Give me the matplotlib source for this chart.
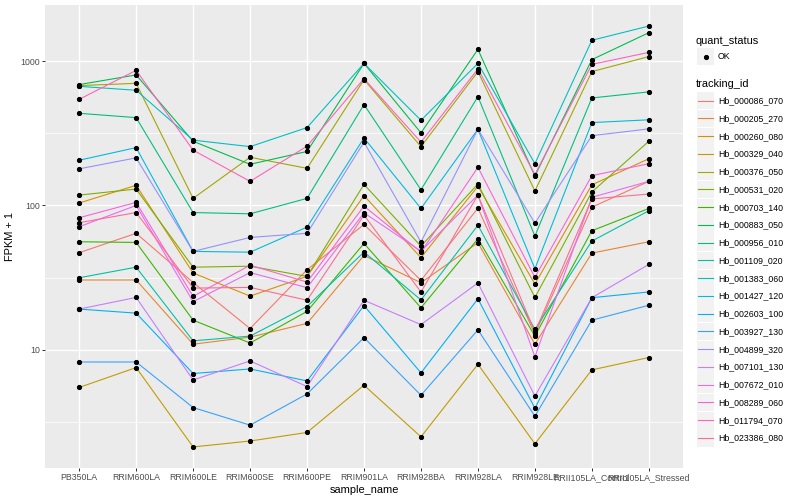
import numpy as np
import matplotlib
matplotlib.use("Agg")
import matplotlib.pyplot as plt
from matplotlib.lines import Line2D
from matplotlib.patches import Rectangle

plt.rcParams['font.family'] = ['Liberation Sans', 'DejaVu Sans']

samples = ["PB350LA", "RRIM600LA", "RRIM600LE", "RRIM600SE", "RRIM600PE",
           "RRIM901LA", "RRIM928BA", "RRIM928LA", "RRIM928LE",
           "RRII105LA_Control", "RRII105LA_Stressed"]

tracking_ids = ["Hb_000086_070", "Hb_000205_270", "Hb_000260_080", "Hb_000329_040",
                "Hb_000376_050", "Hb_000531_020", "Hb_000703_140", "Hb_000883_050",
                "Hb_000956_010", "Hb_001109_020", "Hb_001383_060", "Hb_001427_120",
                "Hb_002603_100", "Hb_003927_130", "Hb_004899_320", "Hb_007101_130",
                "Hb_007672_010", "Hb_008289_060", "Hb_011794_070", "Hb_023386_080"]

# FPKM + 1 per tracking_id, in sample order
Hb_000086_070 = [47.0, 64.1, 29.2, 14.0, 35.8, 73.8, 30.2, 95.8, 12.8, 97.3, 147]
Hb_000205_270 = [30.4, 30.4, 10.9, 12.2, 15.2, 45.0, 29.1, 55.2, 10.9, 46.7, 56.0]
Hb_000260_080 = [104, 138, 34.0, 23.5, 32.2, 117, 43.4, 136, 28.5, 139, 211]
Hb_000329_040 = [5.46, 7.50, 2.11, 2.32, 2.66, 5.66, 2.48, 7.91, 2.22, 7.23, 8.81]
Hb_000376_050 = [679, 704, 112, 216, 181, 747, 256, 849, 126, 849, 1079]
Hb_000531_020 = [118, 130, 37.3, 37.9, 32.2, 140, 52.2, 141, 23.0, 124, 279]
Hb_000703_140 = [56.0, 55.4, 16.0, 11.1, 18.4, 54.5, 19.5, 58.7, 12.4, 66.8, 95.3]
Hb_000883_050 = [690, 805, 279, 193, 237, 968, 319, 1211, 160, 1028, 1581]
Hb_000956_010 = [436, 407, 89.3, 87.5, 112, 501, 128.5, 569, 61.3, 557, 614]
Hb_001109_020 = [31.5, 37.3, 11.5, 12.4, 19.9, 47.5, 22.1, 72.9, 13.8, 56.6, 91.9]
Hb_001383_060 = [671, 630, 284, 256, 347, 968, 390, 968, 195, 1400, 1758]
Hb_001427_120 = [206, 252, 48.0, 47.4, 70.8, 294, 95.3, 338, 36.4, 376, 393]
Hb_002603_100 = [19.1, 17.9, 6.82, 7.34, 6.06, 20.2, 6.89, 22.5, 3.92, 22.9, 25.1]
Hb_003927_130 = [8.20, 8.20, 3.96, 2.99, 4.92, 12.1, 4.82, 13.7, 3.45, 16.0, 20.3]
Hb_004899_320 = [179.5, 214, 48.0, 60.0, 64.1, 275, 55.7, 338, 75.4, 305, 340]
Hb_007101_130 = [19.1, 23.0, 6.15, 8.34, 5.54, 22.0, 14.9, 29.0, 4.76, 22.9, 39.0]
Hb_007672_010 = [71.2, 100, 21.5, 34.2, 26.9, 88.9, 48.2, 118, 8.89, 114, 147]
Hb_008289_060 = [82.2, 105, 23.4, 38.5, 29.4, 98.9, 47.5, 184, 31.7, 161, 195]
Hb_011794_070 = [545, 866, 242, 147, 258, 759, 275, 886, 164, 953, 1154]
Hb_023386_080 = [75.9, 89.3, 26.7, 27.0, 22.0, 85.7, 25.1, 118, 13.2, 111, 120]

series = [Hb_000086_070, Hb_000205_270, Hb_000260_080, Hb_000329_040, Hb_000376_050,
          Hb_000531_020, Hb_000703_140, Hb_000883_050, Hb_000956_010, Hb_001109_020,
          Hb_001383_060, Hb_001427_120, Hb_002603_100, Hb_003927_130, Hb_004899_320,
          Hb_007101_130, Hb_007672_010, Hb_008289_060, Hb_011794_070, Hb_023386_080]

colors = ["#F8766D", "#EA8331", "#D89000", "#C09B00", "#A3A500", "#7CAE00", "#39B600",
          "#00BB4E", "#00BF7D", "#00C1A3", "#00BFC4", "#00BAE0", "#00B0F6", "#35A2FF",
          "#9590FF", "#C77CFF", "#E76BF3", "#FA62DB", "#FF62BC", "#FF6C91"]

W, H = 800, 500
fig = plt.figure(figsize=(W / 72, H / 72), dpi=72)
fig.patch.set_facecolor("white")

def fx(px):
    return px / W

def fy(py):
    return 1 - py / H

ax = fig.add_axes([fx(45), fy(468), fx(683) - fx(45), fy(5) - fy(468)])
ax.set_facecolor("#EBEBEB")

x = np.arange(len(samples))
for vals, col in zip(series, colors):
    ax.plot(x, vals, color=col, lw=1.1, zorder=3, solid_capstyle="butt")
for vals in series:
    ax.plot(x, vals, ls="none", marker="o", ms=4.2, color="black", zorder=4)

ax.set_yscale("log")
allv = np.log10(np.concatenate([np.array(s, float) for s in series]))
lo, hi = allv.min(), allv.max()
pad = (hi - lo) * 0.05
ax.set_ylim(10 ** (lo - pad), 10 ** (hi + pad))
ax.set_xlim(-0.6, len(samples) - 1 + 0.6)

ax.set_yticks([10, 100, 1000])
ax.set_yticklabels(["10", "100", "1000"])
ax.yaxis.set_minor_locator(matplotlib.ticker.FixedLocator([10 ** 0.5, 10 ** 1.5, 10 ** 2.5, 10 ** 3.5]))
ax.yaxis.set_minor_formatter(matplotlib.ticker.NullFormatter())
ax.set_xticks(x)
ax.set_xticklabels(samples)

ax.grid(which="major", color="white", lw=1.4, zorder=1)
ax.grid(which="minor", axis="y", color="white", lw=0.7, zorder=1)
ax.set_axisbelow(True)
for s in ax.spines.values():
    s.set_visible(False)
ax.tick_params(which="major", length=2.75, width=1.0, color="#333333",
               labelsize=8.8, labelcolor="#4D4D4D", pad=2.2)
ax.tick_params(which="minor", length=0)

ax.set_xlabel("sample_name", fontsize=11, color="black", labelpad=3)
ax.set_ylabel("FPKM + 1", fontsize=11, color="black", labelpad=5)

# legends
fig.text(fx(696), fy(40.5), "quant_status", fontsize=11, va="center", ha="left")
kx0, kw, kh = 697, 17, 17.3
fig.patches.append(Rectangle((fx(kx0), fy(56.7 + kh / 2)), fx(kw), fy(0) - fy(kh),
                             transform=fig.transFigure, facecolor="#F2F2F2", edgecolor="none"))
fig.lines.append(Line2D([fx(kx0 + kw / 2)], [fy(56.7)], transform=fig.transFigure,
                        marker="o", ms=4.2, color="black", ls="none"))
fig.text(fx(718), fy(56.7), "OK", fontsize=8.8, va="center", ha="left")

fig.text(fx(696), fy(84.3), "tracking_id", fontsize=11, va="center", ha="left")
step = (438 - 100.7) / 19
for i, (name, col) in enumerate(zip(tracking_ids, colors)):
    cy = 100.7 + i * step
    fig.patches.append(Rectangle((fx(kx0), fy(cy + kh / 2)), fx(kw), fy(0) - fy(kh),
                                 transform=fig.transFigure, facecolor="#F2F2F2", edgecolor="none"))
    fig.lines.append(Line2D([fx(kx0 + 1), fx(kx0 + kw - 1)], [fy(cy), fy(cy)],
                            transform=fig.transFigure, color=col, lw=1.1))
    fig.text(fx(718), fy(cy), name, fontsize=8.8, va="center", ha="left")

fig.savefig("out.png", dpi=72)
